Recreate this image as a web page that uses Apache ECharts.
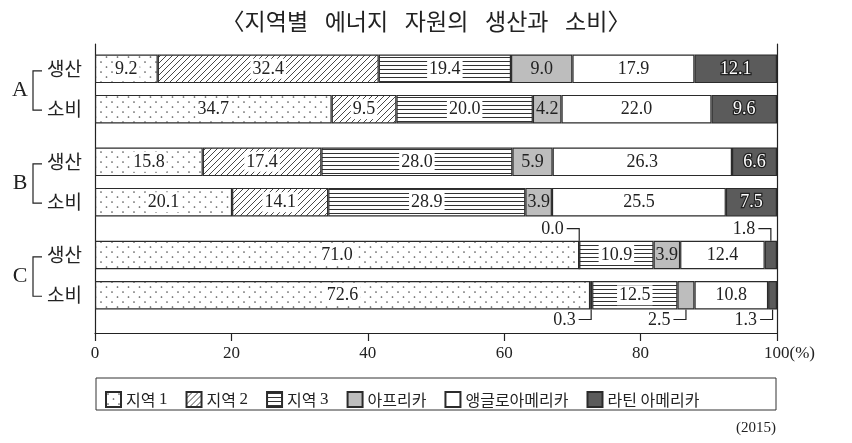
<!DOCTYPE html>
<html>
<head>
<meta charset="utf-8">
<script src="https://cdn.jsdelivr.net/npm/echarts@6/dist/echarts.min.js"></script>
<style>
  html, body { margin: 0; padding: 0; background: #fff; }
  #chart { width: 852px; height: 443px; }
</style>
</head>
<body>
<div id="chart"></div>
<script>
// ---- data -------------------------------------------------------------
const titleText = '〈지역별\u2002 에너지\u2002 자원의\u2002 생산과\u2002 소비〉';
const groups = ['A', 'B', 'C'];
const rows = ['생산', '소비'];
const sources = ['지역 1', '지역 2', '지역 3', '아프리카', '앵글로아메리카', '라틴 아메리카'];
// shares (%) in row order: A생산, A소비, B생산, B소비, C생산, C소비
const region1      = [9.2, 34.7, 15.8, 20.1, 71.0, 72.6];
const region2      = [32.4, 9.5, 17.4, 14.1, 0.0, 0.3];
const region3      = [19.4, 20.0, 28.0, 28.9, 10.9, 12.5];
const africa       = [9.0, 4.2, 5.9, 3.9, 3.9, 2.5];
const angloAmerica = [17.9, 22.0, 26.3, 25.5, 12.4, 10.8];
const latinAmerica = [12.1, 9.6, 6.6, 7.5, 1.8, 1.3];
const xTicks = [0, 20, 40, 60, 80, 100];
const yearNote = '(2015)';

const values = [region1, region2, region3, africa, angloAmerica, latinAmerica];

// ---- fills ------------------------------------------------------------
function tile(w, h, draw) {
  const c = document.createElement('canvas');
  c.width = w; c.height = h;
  const g = c.getContext('2d');
  g.fillStyle = '#fff';
  g.fillRect(0, 0, w, h);
  draw(g);
  return { image: c, repeat: 'repeat' };
}
const dots = tile(11, 10, g => {
  g.fillStyle = '#555';
  [[2, 2], [7.5, 7]].forEach(([x, y]) => {
    g.beginPath(); g.arc(x, y, 0.85, 0, Math.PI * 2); g.fill();
  });
});
const hatch = tile(6, 6, g => {
  g.strokeStyle = '#333'; g.lineWidth = 0.9;
  g.beginPath();
  g.moveTo(-1, 7); g.lineTo(7, -1);
  g.moveTo(-1, 1); g.lineTo(1, -1);
  g.moveTo(5, 7); g.lineTo(7, 5);
  g.stroke();
});
const hlines = tile(4, 4, g => { g.fillStyle = '#333'; g.fillRect(0, 1, 4, 1); });

const fills = [dots, hatch, hlines, '#bdbdbd', '#ffffff', '#5b5b5b'];

// ---- layout -----------------------------------------------------------
const plotLeft = 95, plotRight = 75;
const groupTops = [48.7, 141.7, 234.8];
const groupHeight = 80.6;
const barW = 28.5;
const SMALL = 3;          // segments narrower than this get an outside leader label
const serif = 'Liberation Serif';
const sans = 'Noto Sans CJK KR';
const ink = '#222';

const grids = groupTops.map(t => ({ left: plotLeft, right: plotRight, top: t, height: groupHeight }));
grids.push({ left: plotLeft, right: plotRight, top: 44, height: 289 });   // frame + value axis
const FRAME = 3;

const xAxes = groups.map((_, g) => ({
  type: 'value', gridIndex: g, min: xTicks[0], max: xTicks[xTicks.length - 1], show: false
}));
xAxes.push({
  type: 'value', gridIndex: FRAME,
  min: xTicks[0], max: xTicks[xTicks.length - 1], interval: xTicks[1] - xTicks[0],
  axisLine: { onZero: false, lineStyle: { color: ink, width: 1.2 } },
  axisTick: { show: true, inside: false, length: 8, lineStyle: { color: ink, width: 1.2 } },
  splitLine: { show: false },
  axisLabel: {
    margin: 12, color: ink, fontFamily: serif, fontSize: 17,
    formatter: v => v === 100 ? '{pad|}100(%)' : String(v),
    rich: { pad: { width: 25 } }
  }
});

const yAxes = groups.map((_, g) => ({
  type: 'category', gridIndex: g, data: rows, inverse: true,
  axisLine: { show: false }, axisTick: { show: false },
  axisLabel: { margin: 13, color: ink, fontFamily: sans, fontSize: 19 }
}));
['left', 'right'].forEach(pos => yAxes.push({
  type: 'value', gridIndex: FRAME, position: pos, min: 0, max: 1,
  axisLine: { show: true, onZero: false, lineStyle: { color: ink, width: 1.2 } },
  axisTick: { show: false }, axisLabel: { show: false }, splitLine: { show: false }
}));

const series = [];
groups.forEach((_, g) => {
  sources.forEach((name, s) => {
    const dark = s === 5;
    const patterned = s < 3;
    series.push({
      name, type: 'bar', stack: 'group' + g,
      xAxisIndex: g, yAxisIndex: g, barWidth: barW,
      data: [values[s][2 * g], values[s][2 * g + 1]].map(v => ({
        value: v, label: { show: v >= SMALL }
      })),
      itemStyle: { color: fills[s], borderColor: '#2b2b2b', borderWidth: 1.2 },
      label: {
        position: 'inside',
        formatter: p => p.value.toFixed(1),
        fontFamily: serif, fontSize: 18,
        color: dark ? '#fff' : ink,
        textBorderColor: dark ? '#222' : 'transparent',
        textBorderWidth: dark ? 2.5 : 0,
        backgroundColor: patterned ? '#fff' : 'transparent',
        padding: patterned ? [1, 2] : 0
      },
      emphasis: { disabled: true }
    });
  });
});

const chart = echarts.init(document.getElementById('chart'), null, { renderer: 'canvas' });
chart.setOption({
  animation: false,
  backgroundColor: '#fff',
  title: {
    text: titleText, left: 'center', top: 5,
    textStyle: { fontFamily: sans, fontSize: 23, fontWeight: 'normal', color: ink }
  },
  legend: {
    data: sources, left: 100, top: 386, icon: 'rect',
    itemWidth: 15, itemHeight: 15, itemGap: 18,
    formatter: name => name.replace(/(\d)$/, '{n|$1}'),
    textStyle: {
      fontFamily: sans, fontSize: 16, color: ink,
      rich: { n: { fontFamily: serif, fontSize: 17, color: ink } }
    }
  },
  grid: grids, xAxis: xAxes, yAxis: yAxes, series
});

// ---- group brackets, leader labels, notes --------------------------------
const graphics = [];
const line = { stroke: ink, lineWidth: 1.2, fill: 'none' };

groups.forEach((label, g) => {
  const y1 = chart.convertToPixel({ yAxisIndex: g }, 0);
  const y2 = chart.convertToPixel({ yAxisIndex: g }, 1);
  graphics.push({
    type: 'polyline',
    shape: { points: [[42, y1 + 2], [33, y1 + 2], [33, y2 + 1], [42, y2 + 1]] },
    style: line
  });
  graphics.push({
    type: 'text', x: 20, y: (y1 + y2) / 2 + 1,
    style: { text: label, fontFamily: serif, fontSize: 22, fill: ink, align: 'center', verticalAlign: 'middle' }
  });

  rows.forEach((_, r) => {
    let start = 0;
    values.forEach(vals => {
      const v = vals[2 * g + r];
      if (v < SMALL) {
        const px = chart.convertToPixel({ xAxisIndex: g }, start + v / 2);
        const cy = chart.convertToPixel({ yAxisIndex: g }, r);
        const above = r === 0;
        const edge = above ? cy - barW / 2 : cy + barW / 2;
        const ly = above ? edge - 12 : edge + 10;
        graphics.push({
          type: 'polyline',
          shape: { points: [[px, edge], [px, ly], [px - 12.5, ly]] },
          style: line
        });
        graphics.push({
          type: 'text', x: px - 15.5, y: ly + 1,
          style: { text: v.toFixed(1), fontFamily: serif, fontSize: 18, fill: ink, align: 'right', verticalAlign: 'middle' }
        });
      }
      start += v;
    });
  });
});

graphics.push({
  type: 'rect', shape: { x: 96, y: 378, width: 680, height: 32 },
  style: { fill: 'none', stroke: '#333', lineWidth: 1 }
});
graphics.push({
  type: 'text', x: 776, y: 428,
  style: { text: yearNote, fontFamily: serif, fontSize: 15, fill: ink, align: 'right', verticalAlign: 'middle' }
});

chart.setOption({ graphic: graphics });
</script>
</body>
</html>
